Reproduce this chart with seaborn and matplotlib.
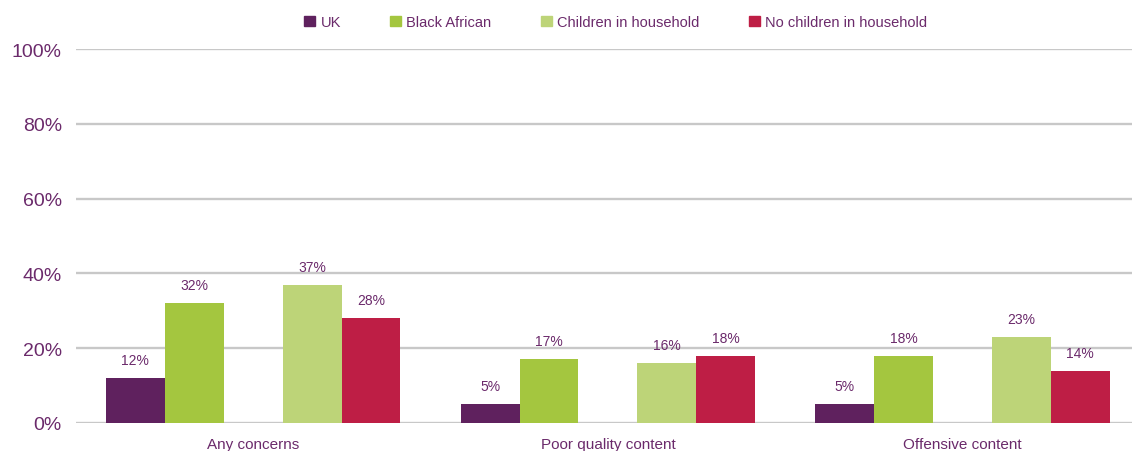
import pandas as pd
import numpy as np
import matplotlib.pyplot as plt
import seaborn as sns
from matplotlib.patches import Patch

categories = ["Any concerns", "Poor quality content", "Offensive content"]
uk = [12, 5, 5]
black_african = [32, 17, 18]
children = [37, 16, 23]
no_children = [28, 18, 14]

series = ["UK", "Black African", " ", "Children in household", "No children in household"]
colours = ["#5F215E", "#A4C63F", "#FFFFFF", "#BDD478", "#BE1E45"]
text_col = "#6B2A6B"

values = {"UK": uk, "Black African": black_african, " ": [0, 0, 0],
          "Children in household": children, "No children in household": no_children}
rows = []
for s in series:
    for c, v in zip(categories, values[s]):
        rows.append({"category": c, "series": s, "value": v})
df = pd.DataFrame(rows)

sns.set_style("white")
plt.rcParams["font.family"] = ["Liberation Sans", "DejaVu Sans"]

fig = plt.figure(figsize=(11.32, 4.52), dpi=100)
ax = fig.add_axes([0.067, 0.062, 0.94, 0.827])

sns.barplot(data=df, x="category", y="value", hue="series", hue_order=series,
            palette=colours, width=0.83, linewidth=0, saturation=1,
            legend=False, ax=ax)

# value labels (skip the spacer)
for cont, s in zip(ax.containers, series):
    if s.strip() == "":
        continue
    ax.bar_label(cont, labels=[f"{v}%" for v in values[s]], padding=8,
                 fontsize=10, color=text_col)

ax.set_ylim(0, 100)
ax.set_yticks(np.arange(0, 101, 20))
ax.set_yticklabels([f"{t}%" for t in range(0, 101, 20)])
ax.set_xlim(-0.5, 2.5)
ax.grid(axis="y", color="#C8C8C8", linewidth=1.7)
ax.set_axisbelow(True)
for sp in ax.spines.values():
    sp.set_visible(False)
ax.tick_params(axis="y", labelsize=14, labelcolor=text_col, length=0, pad=10)
ax.tick_params(axis="x", labelsize=11, labelcolor=text_col, length=0, pad=10)
ax.set_xlabel("")
ax.set_ylabel("")

handles = [Patch(color=c, label=s) for s, c in zip(series, colours) if s.strip()]
fig.legend(handles=handles, loc="center", bbox_to_anchor=(0.544, 0.949), ncol=4,
           frameon=False, fontsize=10.5, labelcolor=text_col, handlelength=0.75,
           handleheight=0.75, handletextpad=0.35, columnspacing=3.4)

fig.savefig("out.png", dpi=100)
